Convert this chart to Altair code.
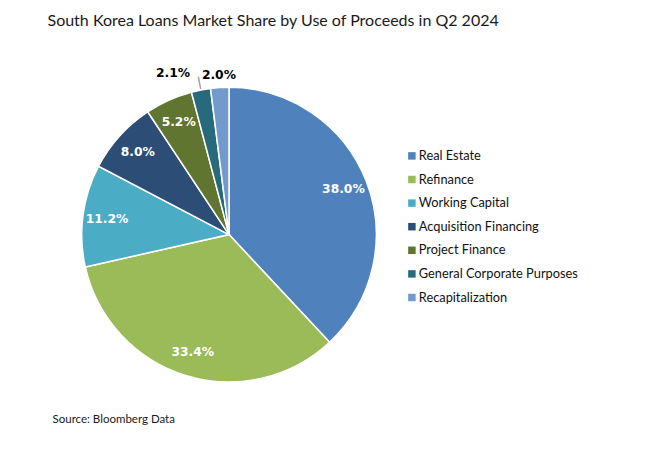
import altair as alt
import pandas as pd
import math

categories = ["Real Estate", "Refinance", "Working Capital", "Acquisition Financing",
              "Project Finance", "General Corporate Purposes", "Recapitalization"]
shares = [38.0, 33.4, 11.2, 8.0, 5.2, 2.1, 2.0]
labels = ["38.0%", "33.4%", "11.2%", "8.0%", "5.2%", "2.1%", "2.0%"]
colors = ["#4F81BD", "#9BBB59", "#4BACC6", "#2C4D75", "#5F7530", "#276A7C", "#729ACA"]

title_text = "South Korea Loans Market Share by Use of Proceeds in Q2 2024"
source_text = "Source: Bloomberg Data"

df = pd.DataFrame({"category": categories, "share": shares, "label": labels,
                   "order": list(range(len(categories)))})

CX, CY, R = 221, 226.6, 147.3
TWO_PI = 2 * math.pi

base = alt.Chart(df).transform_window(
    cum="sum(share)", sort=[alt.SortField("order")], frame=[None, 0]
).transform_joinaggregate(total="sum(share)").transform_calculate(
    start="(datum.cum - datum.share) / datum.total",
    end="datum.cum / datum.total",
    mid="(datum.cum - datum.share / 2) / datum.total",
)

theta_scale = alt.Scale(domain=[0, 1], range=[0, TWO_PI])

color = alt.Color(
    "category:N",
    scale=alt.Scale(domain=categories, range=colors),
    sort=categories,
    legend=alt.Legend(
        title=None, orient="none", legendX=397.5, legendY=141.5, padding=0,
        symbolType="square", symbolSize=56, symbolStrokeWidth=0,
        labelFont="Lato", labelFontSize=12.8, labelColor="#111111",
        labelOffset=0.5, rowPadding=9.6, labelLimit=300,
    ),
)

pie = base.mark_arc(outerRadius=R, stroke="white", strokeWidth=1.5).encode(
    theta=alt.Theta("start:Q", scale=theta_scale),
    theta2="end:Q",
    color=color,
    x=alt.value(CX), y=alt.value(CY),
)

inside = base.transform_filter("datum.share > 3").mark_text(
    radius=123, font="DejaVu Sans", fontWeight="bold", fontSize=12.3,
    color="white", align="center", baseline="middle",
).encode(
    theta=alt.Theta("mid:Q", scale=theta_scale),
    text="label:N",
    x=alt.value(CX), y=alt.value(CY),
)

out_a = base.transform_filter("datum.category == 'Recapitalization'").mark_text(
    radius=160, font="DejaVu Sans", fontWeight="bold", fontSize=12.3,
    color="black", align="center", baseline="middle",
).encode(
    theta=alt.Theta("mid:Q", scale=theta_scale),
    text="label:N",
    x=alt.value(CX), y=alt.value(CY),
)

out_b = base.transform_filter("datum.category == 'General Corporate Purposes'").mark_text(
    radius=162, dx=-25, dy=-2.5, font="DejaVu Sans", fontWeight="bold", fontSize=12.3,
    color="black", align="center", baseline="middle",
).encode(
    theta=alt.Theta("mid:Q", scale=theta_scale),
    text="label:N",
    x=alt.value(CX), y=alt.value(CY),
)

leader = base.transform_filter("datum.category == 'General Corporate Purposes'").transform_calculate(
    l0="datum.mid - 0.0008", l1="datum.mid + 0.0008"
).mark_arc(radius=148.5, radius2=161, color="#A6A6A6").encode(
    theta=alt.Theta("l0:Q", scale=theta_scale),
    theta2="l1:Q",
    x=alt.value(CX), y=alt.value(CY),
)

title = alt.Chart(pd.DataFrame({"t": [title_text]})).mark_text(
    font="Lato", fontSize=16, color="#1a1a1a", align="left", baseline="alphabetic"
).encode(text="t:N", x=alt.value(39.5), y=alt.value(18))

source = alt.Chart(pd.DataFrame({"t": [source_text]})).mark_text(
    font="Lato", fontSize=11.5, color="#1a1a1a", align="left", baseline="alphabetic"
).encode(text="t:N", x=alt.value(44.5), y=alt.value(415.3))

chart = alt.layer(pie, leader, inside, out_a, out_b, title, source).properties(
    width=631, height=440, padding=0,
    autosize=alt.AutoSizeParams(type="none"),
).configure_view(stroke=None)

chart.save("out.html", embed_options={"renderer": "svg", "actions": False})
